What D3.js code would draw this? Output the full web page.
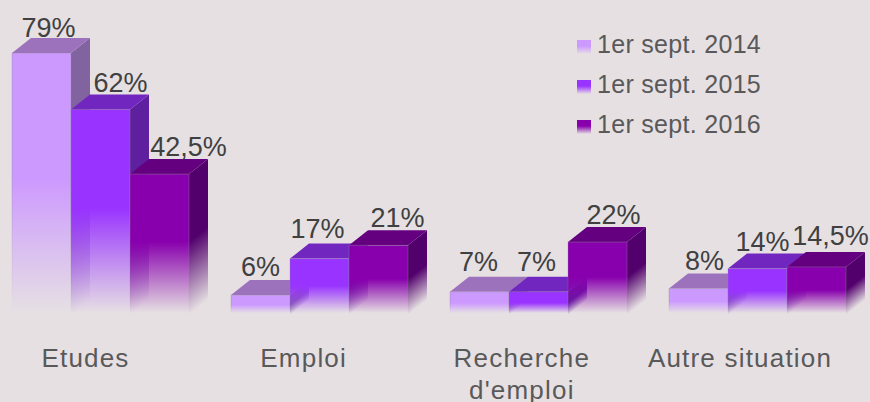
<!DOCTYPE html>
<html>
<head>
<meta charset="utf-8">
<script src="https://cdnjs.cloudflare.com/ajax/libs/d3/7.8.5/d3.min.js"></script>
<style>
  html, body { margin: 0; padding: 0; background: #e6e0e3; overflow: hidden; }
  text { font-family: "Liberation Sans", Arial, sans-serif; }
</style>
</head>
<body>
<script>
// Chart values
const categories = ["Etudes", "Emploi", "Recherche d'emploi", "Autre situation"];
const seriesNames = ["1er sept. 2014", "1er sept. 2015", "1er sept. 2016"];
const values2014 = [79, 6, 7, 8];
const values2015 = [62, 17, 7, 14];
const values2016 = [42.5, 21, 22, 14.5];

// Colours per series
const frontColors = ["#cc99ff", "#9933ff", "#8800ad"];
const topColors = ["#9d72bd", "#7126bf", "#640080"];
const sideColors = ["#8163a0", "#5f20a0", "#52006c"];

// The value labels are placed by hand in the original: [dx, dy] per bar
const labelNudges = [
    [[7, -1], [20, -2], [29, -3]],
    [[0, -4], [-2, -6], [19, -3]],
    [[-1, -6], [-2, -6], [16, -3]],
    [[6, -3], [5, -3], [14, -7]]
];

let width = 870, height = 402;
let depthX = 19, depthY = 15;
let svg, defs, x, xInner, y, xLabels;

// Main Process
appendSvg("body");
setupScales();
appendBars();
appendValueLabels();
appendCategoryAxis();
appendLegend();

function appendSvg(domElement) {
    svg = d3.select(domElement).append("svg")
        .attr("width", width)
        .attr("height", height)
        .style("display", "block");
    defs = svg.append("defs");
}

function setupScales() {
    x = d3.scaleBand()
        .domain(categories)
        .range([12, 846])
        .paddingInner(0.1918);

    xInner = d3.scaleBand()
        .domain(seriesNames)
        .range([0, x.bandwidth()]);

    y = d3.scaleLinear()
        .domain([0, 79])
        .range([315, 53]);

    // Category labels are not centred on the bars
    xLabels = d3.scalePoint()
        .domain(categories)
        .range([85, 739.5]);
}

// Gradient that keeps the colour, then fades out to nothing at the end point
function addFade(id, color, x1, y1, x2, y2) {
    let gradient = defs.append("linearGradient")
        .attr("id", id)
        .attr("gradientUnits", "userSpaceOnUse")
        .attr("x1", x1).attr("y1", y1)
        .attr("x2", x2).attr("y2", y2);
    gradient.append("stop").attr("offset", 0).attr("stop-color", color).attr("stop-opacity", 1);
    gradient.append("stop").attr("offset", 1).attr("stop-color", color).attr("stop-opacity", 0);
}

function appendBars() {
    let rows = [values2014, values2015, values2016];
    let base = y(0);
    let w = xInner.bandwidth();

    categories.forEach(function(cat, c) {
        seriesNames.forEach(function(name, s) {
            let left = x(cat) + xInner(name);
            let right = left + w;
            let top = y(rows[s][c]);
            let fadeStart = top + (base - top) * 0.48;
            let fade = base - fadeStart;

            let frontId = `front-${c}-${s}`;
            addFade(frontId, frontColors[s], 0, fadeStart, 0, base - 2);

            let edgeId = `edge-${c}-${s}`;
            addFade(edgeId, "#8a8a8a", 0, fadeStart, 0, base - 2);

            // side fades towards its slanted bottom edge
            let sideId = `side-${c}-${s}`;
            let len = Math.hypot(depthX, depthY);
            let nx = depthY / len, ny = depthX / len;
            let dist = fade * ny;
            addFade(sideId, sideColors[s], right, base - fade, right + nx * dist, base - fade + ny * dist);

            svg.append("path")
                .attr("d", `M${right},${top}L${right + depthX},${top - depthY}L${right + depthX},${base - depthY}L${right},${base}Z`)
                .attr("fill", `url(#${sideId})`);

            svg.append("path")
                .attr("d", `M${left},${top}L${left + depthX},${top - depthY}L${right + depthX},${top - depthY}L${right},${top}Z`)
                .attr("fill", topColors[s]);

            svg.append("rect")
                .attr("x", left)
                .attr("y", top)
                .attr("width", w)
                .attr("height", base - top)
                .attr("fill", `url(#${frontId})`)
                .attr("stroke", `url(#${edgeId})`)
                .attr("stroke-opacity", 0.35)
                .attr("stroke-width", 1);
        });
    });
}

function appendValueLabels() {
    let rows = [values2014, values2015, values2016];
    categories.forEach(function(cat, c) {
        seriesNames.forEach(function(name, s) {
            let v = rows[s][c];
            let nudge = labelNudges[c][s];
            svg.append("text")
                .attr("x", x(cat) + xInner(name) + xInner.bandwidth() / 2 + nudge[0])
                .attr("y", y(v) - depthY + nudge[1])
                .attr("text-anchor", "middle")
                .attr("font-size", 27)
                .attr("fill", "#404040")
                .text(String(v).replace(".", ",") + "%");
        });
    });
}

function appendCategoryAxis() {
    let axis = svg.append("g")
        .attr("transform", "translate(0, 345)")
        .call(d3.axisBottom(xLabels).tickSize(0).tickPadding(0));
    axis.select(".domain").remove();

    axis.selectAll("text")
        .attr("font-size", 26)
        .attr("letter-spacing", 1.2)
        .attr("fill", "#595959")
        .attr("dy", null)
        .attr("y", 22)
        .each(function(d) {
            // Only this label wraps on two lines
            if (d !== "Recherche d'emploi") return;
            let t = d3.select(this).text(null);
            t.append("tspan").attr("x", 0).attr("y", 22).text("Recherche");
            t.append("tspan").attr("x", 0).attr("y", 54).text("d'emploi");
        });
    axis.attr("font-family", null).attr("font-size", null);
}

function appendLegend() {
    let legendY = d3.scalePoint()
        .domain(seriesNames)
        .range([53, 133]);

    seriesNames.forEach(function(name, s) {
        let baseline = legendY(name);
        let id = `legend-${s}`;
        addFade(id, frontColors[s], 0, baseline - 7, 0, baseline + 1);

        svg.append("rect")
            .attr("x", 577)
            .attr("y", baseline - 13)
            .attr("width", 14)
            .attr("height", 14)
            .attr("fill", `url(#${id})`);

        svg.append("text")
            .attr("x", 597)
            .attr("y", baseline)
            .attr("font-size", 25)
            .attr("letter-spacing", 0.3)
            .attr("fill", "#595959")
            .text(name);
    });
}
</script>
</body>
</html>
